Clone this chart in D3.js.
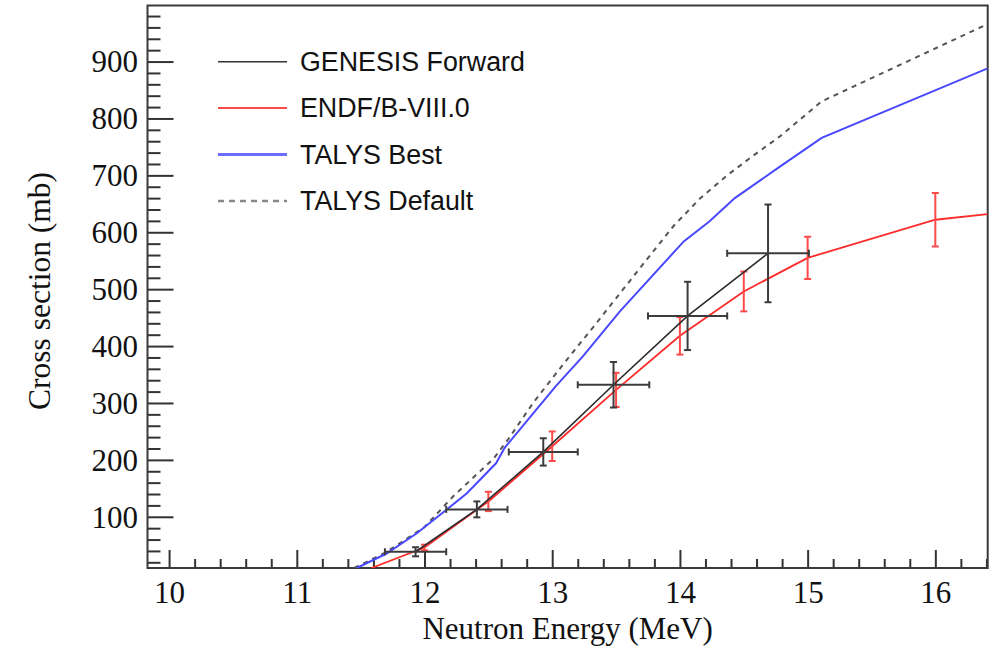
<!DOCTYPE html>
<html>
<head>
<meta charset="utf-8">
<script src="https://cdn.jsdelivr.net/npm/d3@7"></script>
<style>
  body { margin: 0; background: #fff; }
  svg { display: block; }
  .tick text { font-family: "Liberation Serif", "Times New Roman", serif; font-size: 31px; fill: #111; }
</style>
</head>
<body>
<svg id="chart" width="991" height="648"></svg>
<script>
// Axis tick labels
const energyTicks = [10, 11, 12, 13, 14, 15, 16];
const xsTicks = [100, 200, 300, 400, 500, 600, 700, 800, 900];

// GENESIS forward measurement (energy bin centre, half-width, cross section, uncertainty)
const genesisE = [11.93, 12.41, 12.93, 13.48, 14.06, 14.69];
const genesisEErr = [0.24, 0.24, 0.27, 0.28, 0.31, 0.32];
const genesisXS = [38.5, 113, 214, 332, 453, 563];
const genesisXSErr = [8, 14, 24, 40, 60, 86];

// ENDF/B-VIII.0 evaluation
const endfE = [11.585, 12.0, 12.5, 13.0, 13.5, 14.0, 14.5, 15.0, 16.0, 16.41];
const endfXS = [10, 46, 127, 224, 323, 418, 496, 555, 622, 632];
// ENDF/B-VIII.0 uncertainties at the evaluated energies
const endfBarE = [12.0, 12.5, 13.0, 13.5, 14.0, 14.5, 15.0, 16.0];
const endfBarErr = [5, 17, 26, 30, 33, 35, 37, 47];

// TALYS calculations
const talysBestE = [11.47, 11.7, 11.94, 12.12, 12.33, 12.56, 12.63, 12.83, 13.03, 13.24, 13.53, 14.03, 14.23, 14.43, 14.78, 15.11, 16.41];
const talysBestXS = [10, 35, 71, 103, 141, 194, 222, 276, 330, 382, 461, 584, 619, 660, 715, 766, 888];
const talysDefE = [11.45, 11.7, 12.0, 12.225, 12.54, 12.655, 12.85, 13.1, 13.32, 13.5, 13.74, 13.95, 14.16, 14.37, 14.57, 14.78, 15.11, 16.41];
const talysDefXS = [10, 38, 82, 136, 202, 236, 300, 372, 433, 484, 552, 611, 660, 700, 734, 768, 830, 966];

const legendLabels = ["GENESIS Forward", "ENDF/B-VIII.0", "TALYS Best", "TALYS Default"];

const svg = d3.select("#chart");
const frame = { left: 147.5, right: 987.7, top: 5.5, bottom: 568 };

const x = d3.scaleLinear().domain([9.831, 16.41]).range([frame.left, frame.right]);
const y = d3.scaleLinear().domain([10, 998.5]).range([frame.bottom, frame.top]);

svg.append("defs").append("clipPath").attr("id", "plotClip")
  .append("rect")
  .attr("x", frame.left).attr("y", frame.top)
  .attr("width", frame.right - frame.left).attr("height", frame.bottom - frame.top);

// Minor ticks
const minorX = d3.range(10.0, 16.41, 0.2).filter(v => Math.abs(v - Math.round(v)) > 1e-6);
const minorY = d3.range(20, 998, 20).filter(v => v % 100 !== 0);

svg.append("g")
  .attr("transform", `translate(0,${frame.bottom})`)
  .call(d3.axisBottom(x).tickValues(minorX).tickSize(-9).tickFormat(""))
  .call(g => g.select(".domain").remove())
  .call(g => g.selectAll("line").attr("stroke", "#333").attr("stroke-width", 2));

svg.append("g")
  .attr("transform", `translate(${frame.left},0)`)
  .call(d3.axisLeft(y).tickValues(minorY).tickSize(-13).tickFormat(""))
  .call(g => g.select(".domain").remove())
  .call(g => g.selectAll("line").attr("stroke", "#333").attr("stroke-width", 2));

// Major ticks with labels
const xAxis = svg.append("g")
  .attr("transform", `translate(0,${frame.bottom})`)
  .call(d3.axisBottom(x).tickValues(energyTicks).tickSize(-18).tickFormat(d3.format("d")))
  .call(g => g.select(".domain").remove())
  .call(g => g.selectAll("line").attr("stroke", "#333").attr("stroke-width", 2));
xAxis.selectAll("text").attr("y", 35).attr("dy", null);

const yAxis = svg.append("g")
  .attr("transform", `translate(${frame.left},0)`)
  .call(d3.axisLeft(y).tickValues(xsTicks).tickSize(-26).tickFormat(d3.format("d")))
  .call(g => g.select(".domain").remove())
  .call(g => g.selectAll("line").attr("stroke", "#333").attr("stroke-width", 2));
yAxis.selectAll("text").attr("x", -9.5).attr("dy", "0.33em");

// Frame
svg.append("rect")
  .attr("x", frame.left).attr("y", frame.top)
  .attr("width", frame.right - frame.left).attr("height", frame.bottom - frame.top)
  .attr("fill", "none").attr("stroke", "#3a3a3a").attr("stroke-width", 2);

// Axis titles
svg.append("text")
  .attr("x", (frame.left + frame.right) / 2).attr("y", 639)
  .attr("text-anchor", "middle")
  .style("font-family", "'Liberation Serif', 'Times New Roman', serif")
  .style("font-size", "31px").attr("fill", "#111")
  .text("Neutron Energy (MeV)");

svg.append("text")
  .attr("transform", "translate(50,291) rotate(-90)")
  .attr("text-anchor", "middle")
  .style("font-family", "'Liberation Serif', 'Times New Roman', serif")
  .style("font-size", "31.5px").attr("fill", "#111")
  .text("Cross section (mb)");

const plot = svg.append("g").attr("clip-path", "url(#plotClip)");
const line = d3.line().x(d => x(d[0])).y(d => y(d[1]));

// TALYS default (dashed)
plot.append("path")
  .datum(d3.zip(talysDefE, talysDefXS))
  .attr("d", line).attr("fill", "none")
  .attr("stroke", "#555").attr("stroke-width", 2).attr("stroke-dasharray", "5,5");

// TALYS best
plot.append("path")
  .datum(d3.zip(talysBestE, talysBestXS))
  .attr("d", line).attr("fill", "none")
  .attr("stroke", "#4848ff").attr("stroke-width", 2);

// ENDF/B-VIII.0 curve
plot.append("path")
  .datum(d3.zip(endfE, endfXS))
  .attr("d", line).attr("fill", "none")
  .attr("stroke", "#ff2a2a").attr("stroke-width", 1.8);

// ENDF/B-VIII.0 uncertainty bars, centred on the evaluated curve
const endfInterp = e => {
  const i = d3.bisectRight(endfE, e) - 1;
  const j = Math.min(i + 1, endfE.length - 1);
  if (i === j) return endfXS[i];
  const t = (e - endfE[i]) / (endfE[j] - endfE[i]);
  return endfXS[i] + t * (endfXS[j] - endfXS[i]);
};
const cap = 3.5;
const endfBars = plot.append("g").attr("stroke", "#ff4a4a").attr("stroke-width", 2);
endfBarE.forEach((e, k) => {
  const c = endfInterp(e), lo = y(c - endfBarErr[k]), hi = y(c + endfBarErr[k]), px = x(e);
  endfBars.append("line").attr("x1", px).attr("x2", px).attr("y1", lo).attr("y2", hi);
  endfBars.append("line").attr("x1", px - cap).attr("x2", px + cap).attr("y1", lo).attr("y2", lo);
  endfBars.append("line").attr("x1", px - cap).attr("x2", px + cap).attr("y1", hi).attr("y2", hi);
});

// GENESIS forward: connecting line and error bars
plot.append("path")
  .datum(d3.zip(genesisE, genesisXS))
  .attr("d", line).attr("fill", "none")
  .attr("stroke", "#2a2a2a").attr("stroke-width", 1.6);

const gBars = plot.append("g").attr("stroke", "#3c3c3c").attr("stroke-width", 2);
genesisE.forEach((e, k) => {
  const px = x(e), py = y(genesisXS[k]);
  const x0 = x(e - genesisEErr[k]), x1 = x(e + genesisEErr[k]);
  const y0 = y(genesisXS[k] - genesisXSErr[k]), y1 = y(genesisXS[k] + genesisXSErr[k]);
  gBars.append("line").attr("x1", x0).attr("x2", x1).attr("y1", py).attr("y2", py);
  gBars.append("line").attr("x1", px).attr("x2", px).attr("y1", y0).attr("y2", y1);
  gBars.append("line").attr("x1", x0).attr("x2", x0).attr("y1", py - cap).attr("y2", py + cap);
  gBars.append("line").attr("x1", x1).attr("x2", x1).attr("y1", py - cap).attr("y2", py + cap);
  gBars.append("line").attr("x1", px - cap).attr("x2", px + cap).attr("y1", y0).attr("y2", y0);
  gBars.append("line").attr("x1", px - cap).attr("x2", px + cap).attr("y1", y1).attr("y2", y1);
});

// Legend
const legendStyles = [
  { stroke: "#333", width: 1.5, dash: null },
  { stroke: "#ff4a4a", width: 2, dash: null },
  { stroke: "#6c6cff", width: 3, dash: null },
  { stroke: "#888", width: 2.5, dash: "6,5" }
];
const legend = svg.append("g");
legendLabels.forEach((lab, i) => {
  const ly = 61.7 + i * 46.4;
  const st = legendStyles[i];
  legend.append("line")
    .attr("x1", 218).attr("x2", 287).attr("y1", ly).attr("y2", ly)
    .attr("stroke", st.stroke).attr("stroke-width", st.width)
    .attr("stroke-dasharray", st.dash);
  legend.append("text")
    .attr("x", 300).attr("y", ly + 9)
    .style("font-family", "'Liberation Sans', Arial, Helvetica, sans-serif")
    .style("font-size", "26.8px").attr("fill", "#111")
    .text(lab);
});
</script>
</body>
</html>
